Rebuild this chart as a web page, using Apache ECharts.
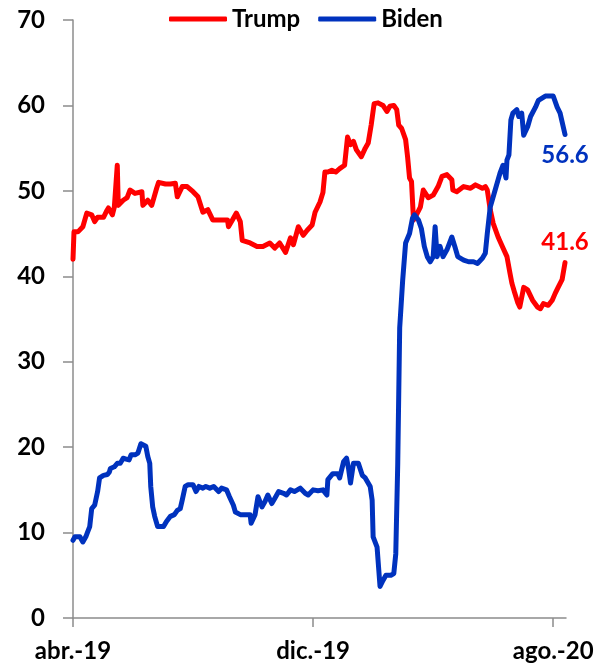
<!DOCTYPE html>
<html>
<head>
<meta charset="utf-8">
<script src="https://cdn.jsdelivr.net/npm/echarts@6/dist/echarts.min.js"></script>
<style>
  html, body { margin: 0; padding: 0; background: #fff; }
  #chart { width: 597px; height: 672px; }
</style>
</head>
<body>
<div id="chart"></div>
<script>
// Días transcurridos desde el 1 de abril de 2019 y porcentaje de cada candidato
const trumpDias = [0, 1, 5, 10, 14, 19, 22, 25, 31, 34, 36, 40, 42, 44, 45, 46, 51, 55, 58, 63, 70, 71, 76, 80, 85, 87, 94, 99, 104, 106, 111, 116, 122, 127, 132, 137, 142, 149, 157, 158, 162, 166, 170, 172, 180, 187, 193, 200, 205, 210, 216, 221, 224, 229, 234, 238, 243, 246, 251, 254, 256, 259, 263, 267, 271, 276, 279, 282, 285, 288, 293, 297, 300, 303, 306, 310, 315, 319, 322, 326, 329, 331, 334, 338, 340, 342, 344, 346, 349, 353, 356, 361, 366, 371, 375, 380, 385, 386, 390, 397, 404, 409, 416, 419, 421, 424, 427, 432, 437, 441, 444, 446, 449, 452, 454, 458, 462, 467, 472, 475, 478, 483, 487, 490, 493, 497, 500];
const trump = [42.0, 45.2, 45.2, 45.8, 47.4, 47.2, 46.4, 46.9, 46.9, 47.6, 48.0, 47.2, 48.1, 48.3, 53.0, 48.3, 48.9, 49.2, 50.1, 49.7, 49.9, 48.3, 48.9, 48.3, 50.3, 51.0, 50.8, 50.8, 50.9, 49.3, 50.5, 50.5, 49.9, 49.3, 47.5, 47.8, 46.6, 46.6, 46.6, 45.8, 46.6, 47.4, 46.4, 44.2, 43.9, 43.5, 43.5, 43.9, 43.3, 43.9, 42.8, 44.5, 43.7, 45.8, 44.8, 45.4, 46.0, 47.5, 48.7, 49.8, 52.2, 52.2, 52.4, 52.2, 52.6, 53.0, 56.3, 55.4, 55.8, 54.8, 54.0, 55.0, 55.6, 57.7, 60.2, 60.3, 60.0, 59.3, 59.9, 60.0, 59.5, 57.7, 57.3, 56.0, 54.0, 51.5, 51.1, 46.6, 47.2, 48.1, 50.1, 49.2, 49.5, 50.5, 51.7, 51.9, 51.3, 50.1, 49.9, 50.5, 50.3, 50.7, 50.3, 50.5, 50.1, 47.8, 46.2, 44.6, 43.3, 42.3, 40.4, 39.2, 38.0, 36.9, 36.4, 38.7, 38.4, 37.2, 36.4, 36.2, 36.8, 36.6, 37.2, 38.0, 38.7, 39.6, 41.6];

const bidenDias = [0, 2, 7, 10, 13, 15, 17, 19, 22, 24, 25, 27, 31, 35, 37, 38, 42, 45, 48, 51, 54, 57, 59, 63, 66, 69, 71, 74, 76, 78, 79, 81, 83, 86, 92, 95, 99, 103, 106, 109, 111, 114, 117, 122, 125, 128, 132, 135, 139, 143, 148, 151, 156, 159, 163, 165, 170, 176, 180, 181, 185, 188, 192, 195, 198, 202, 205, 209, 214, 217, 221, 225, 231, 236, 239, 244, 249, 254, 258, 259, 264, 269, 271, 275, 278, 280, 282, 285, 290, 294, 297, 302, 304, 305, 309, 312, 315, 318, 323, 326, 328, 330, 332, 333, 335, 338, 342, 345, 347, 351, 354, 357, 360, 363, 366, 368, 370, 373, 376, 380, 385, 388, 391, 397, 402, 407, 411, 416, 419, 421, 424, 429, 434, 437, 440, 441, 443, 445, 447, 451, 453, 456, 458, 462, 465, 470, 473, 480, 488, 492, 495, 500];
const biden = [9.1, 9.5, 9.5, 8.9, 9.5, 10.1, 10.7, 12.8, 13.2, 13.0, 14.8, 16.4, 16.7, 16.8, 17.1, 17.5, 17.7, 18.1, 18.1, 18.7, 18.6, 18.5, 19.1, 19.1, 19.3, 20.4, 20.3, 20.1, 18.9, 18.1, 15.4, 13.0, 11.9, 10.7, 10.7, 11.3, 11.9, 12.1, 12.6, 12.8, 13.8, 15.4, 15.6, 15.6, 14.8, 15.4, 15.2, 15.4, 15.2, 15.4, 14.8, 15.2, 15.0, 14.2, 13.2, 12.4, 12.1, 12.1, 12.1, 11.1, 12.1, 14.2, 13.0, 13.6, 14.4, 13.4, 14.0, 14.8, 14.6, 14.4, 15.0, 14.8, 15.2, 14.6, 14.4, 15.0, 14.9, 15.0, 14.4, 16.2, 16.9, 16.9, 16.4, 18.3, 18.7, 17.5, 15.8, 18.1, 18.1, 16.7, 16.4, 15.4, 13.8, 9.5, 8.3, 3.7, 4.4, 5.0, 5.0, 5.2, 7.5, 18.0, 34.0, 35.8, 39.5, 43.9, 45.0, 46.8, 47.2, 46.6, 45.6, 43.5, 42.3, 41.7, 42.3, 45.8, 42.3, 43.5, 42.3, 43.1, 44.6, 43.5, 42.3, 41.9, 41.7, 41.7, 41.5, 42.1, 42.7, 45.0, 48.1, 50.1, 52.1, 53.0, 51.5, 53.6, 54.2, 58.3, 59.1, 59.5, 58.7, 59.1, 56.5, 57.5, 58.7, 59.8, 60.6, 61.1, 61.1, 59.8, 59.1, 56.6];

// Marcas del eje horizontal (días desde el 1 de abril de 2019)
const tickDias = [0, 244, 488];
const tickEtiquetas = ['abr.-19', 'dic.-19', 'ago.-20'];
const ultimoDia = 501;

const rojo = '#FF0000';
const azul = '#0032BE';
const fuente = 'Lato';
const tamano = 24;
const grisEje = '#8C8C8C';

// Serie de línea con el último valor rotulado junto a su extremo
function serie(dias, valores, nombre, color, posicion, distancia) {
  const datos = dias.map((d, i) => [d, valores[i]]);
  const n = datos.length - 1;
  return {
    name: nombre,
    type: 'line',
    data: datos,
    showSymbol: false,
    symbol: 'none',
    color: color,
    lineStyle: { color: color, width: 5, cap: 'round', join: 'round' },
    emphasis: { disabled: true },
    animation: false,
    markPoint: {
      symbol: 'circle',
      symbolSize: 0,
      silent: true,
      animation: false,
      itemStyle: { color: 'rgba(0,0,0,0)' },
      data: [{ coord: [dias[n], valores[n]], value: valores[n] }],
      label: {
        show: true,
        position: posicion,
        distance: distancia,
        color: color,
        fontFamily: fuente,
        fontWeight: 'bold',
        fontSize: tamano,
        formatter: p => Number(p.value).toFixed(1)
      }
    }
  };
}

const chart = echarts.init(document.getElementById('chart'), null, { renderer: 'canvas' });
chart.setOption({
  animation: false,
  backgroundColor: '#fff',
  legend: {
    top: 2,
    left: 164,
    icon: 'roundRect',
    itemWidth: 58,
    itemHeight: 5,
    itemGap: 18,
    textStyle: { color: '#000', fontFamily: fuente, fontWeight: 'bold', fontSize: tamano },
    data: ['Trump', 'Biden']
  },
  grid: { left: 73, right: 31, top: 20, bottom: 54, containLabel: false },
  xAxis: {
    type: 'value',
    min: 0,
    max: ultimoDia,
    splitLine: { show: false },
    axisLine: { show: true, onZero: false, lineStyle: { color: grisEje, width: 1.5 } },
    axisTick: { show: true, inside: false, length: 9, customValues: tickDias, lineStyle: { color: grisEje, width: 1.5 } },
    axisLabel: {
      customValues: tickDias,
      margin: 21,
      color: '#000',
      fontFamily: fuente,
      fontWeight: 'bold',
      fontSize: tamano,
      formatter: v => tickEtiquetas[tickDias.indexOf(v)]
    }
  },
  yAxis: {
    type: 'value',
    min: 0,
    max: 70,
    interval: 10,
    splitLine: { show: false },
    axisLine: { show: true, lineStyle: { color: grisEje, width: 1.5 } },
    axisTick: { show: true, inside: false, length: 10, lineStyle: { color: grisEje, width: 1.5 } },
    axisLabel: { margin: 28, color: '#000', fontFamily: fuente, fontWeight: 'bold', fontSize: tamano }
  },
  series: [
    serie(trumpDias, trump, 'Trump', rojo, 'top', 8),
    serie(bidenDias, biden, 'Biden', azul, 'bottom', 9)
  ]
});
</script>
</body>
</html>
